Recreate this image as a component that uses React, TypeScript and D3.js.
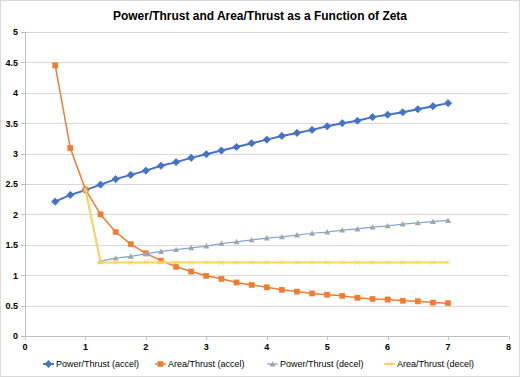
import React from "react";
import * as d3 from "d3";

const xAccel = [0.5, 0.75, 1, 1.25, 1.5, 1.75, 2, 2.25, 2.5, 2.75, 3, 3.25, 3.5, 3.75, 4, 4.25, 4.5, 4.75, 5, 5.25, 5.5, 5.75, 6, 6.25, 6.5, 6.75, 7];
const powerAccel = [2.21, 2.32, 2.40, 2.49, 2.58, 2.65, 2.72, 2.80, 2.86, 2.93, 2.99, 3.05, 3.11, 3.17, 3.23, 3.29, 3.34, 3.39, 3.45, 3.50, 3.54, 3.60, 3.64, 3.68, 3.73, 3.78, 3.83];
const areaAccel = [4.45, 3.09, 2.41, 2.00, 1.71, 1.51, 1.36, 1.24, 1.14, 1.06, 0.99, 0.94, 0.88, 0.84, 0.80, 0.76, 0.73, 0.70, 0.68, 0.66, 0.63, 0.61, 0.60, 0.58, 0.57, 0.55, 0.54];
const xDecel = [1, 1.25, 1.5, 1.75, 2, 2.25, 2.5, 2.75, 3, 3.25, 3.5, 3.75, 4, 4.25, 4.5, 4.75, 5, 5.25, 5.5, 5.75, 6, 6.25, 6.5, 6.75, 7];
const powerDecel = [2.41, 1.23, 1.28, 1.31, 1.35, 1.39, 1.42, 1.45, 1.48, 1.52, 1.55, 1.58, 1.61, 1.63, 1.66, 1.69, 1.71, 1.74, 1.76, 1.79, 1.81, 1.84, 1.86, 1.88, 1.90];
const areaDecel = [2.41, 1.21, 1.21, 1.21, 1.21, 1.21, 1.21, 1.21, 1.21, 1.21, 1.21, 1.21, 1.21, 1.21, 1.21, 1.21, 1.21, 1.21, 1.21, 1.21, 1.21, 1.21, 1.21, 1.21, 1.21];
const xTicks = [0, 1, 2, 3, 4, 5, 6, 7, 8];
const yTicks = [0, 0.5, 1, 1.5, 2, 2.5, 3, 3.5, 4, 4.5, 5];
const seriesNames = ["Power/Thrust (accel)", "Area/Thrust (accel)", "Power/Thrust (decel)", "Area/Thrust (decel)"];
const title = "Power/Thrust and Area/Thrust as a Function of Zeta";

type Marker = "diamond" | "square" | "triangle" | "x";
const styles: { line: string; marker: string; lw: number; m: Marker }[] = [
  { line: "#4472C4", marker: "#4472C4", lw: 2, m: "diamond" },
  { line: "#ED7D31", marker: "#ED7D31", lw: 1.5, m: "square" },
  { line: "#7FA6DA", marker: "#A5A5A5", lw: 1.25, m: "triangle" },
  { line: "#FFD45A", marker: "#FFD45A", lw: 2, m: "x" },
];

function MarkerShape({ x, y, m, color }: { x: number; y: number; m: Marker; color: string }) {
  if (m === "diamond") {
    const s = 3.6;
    return <path d={`M${x},${y - s}L${x + s},${y}L${x},${y + s}L${x - s},${y}Z`} fill={color} stroke={color} strokeWidth={0.8} />;
  }
  if (m === "square") {
    const s = 2.6;
    return <rect x={x - s} y={y - s} width={2 * s} height={2 * s} fill={color} stroke={color} strokeWidth={0.5} />;
  }
  if (m === "triangle") {
    const s = 3;
    return <path d={`M${x},${y - s}L${x + s},${y + s * 0.8}L${x - s},${y + s * 0.8}Z`} fill={color} />;
  }
  const s = 2.3;
  return <path d={`M${x - s},${y - s}L${x + s},${y + s}M${x + s},${y - s}L${x - s},${y + s}`} stroke={color} strokeWidth={1} />;
}

export default function App() {
  const W = 520, H = 377;
  const x = d3.scaleLinear().domain([0, 8]).range([25, 508.5]);
  const y = d3.scaleLinear().domain([0, 5]).range([336, 32]);
  const data = [
    { xs: xAccel, ys: powerAccel },
    { xs: xAccel, ys: areaAccel },
    { xs: xDecel, ys: powerDecel },
    { xs: xDecel, ys: areaDecel },
  ];
  const line = d3.line<[number, number]>().x((d) => x(d[0])).y((d) => y(d[1]));
  const tickFont = "Liberation Sans, Arial, sans-serif";
  const legendX = [43, 155, 267, 384];
  return (
    <svg width={W} height={H} style={{ position: "absolute", left: 0, top: 0 }}>
      <rect x={0.5} y={0.5} width={W - 1} height={H - 1} fill="#fff" stroke="#D9D9D9" />
      <text x={260} y={20} textAnchor="middle" fontFamily={tickFont} fontWeight="bold" fontSize={12.5} fill="#000" textLength={294} lengthAdjust="spacingAndGlyphs">{title}</text>
      {yTicks.map((t) => (
        <g key={"y" + t}>
          {t > 0 && <line x1={25} x2={508.5} y1={Math.round(y(t)) + 0.5} y2={Math.round(y(t)) + 0.5} stroke="#D9D9D9" strokeWidth={1} />}
          <line x1={21} x2={25} y1={Math.round(y(t)) + 0.5} y2={Math.round(y(t)) + 0.5} stroke="#BFBFBF" />
          <text x={18} y={y(t) + 3.3} textAnchor="end" fontFamily={tickFont} fontWeight="bold" fontSize={9} fill="#000">{t}</text>
        </g>
      ))}
      <line x1={25.5} x2={25.5} y1={32} y2={336} stroke="#BFBFBF" />
      <line x1={25} x2={508.5} y1={336.5} y2={336.5} stroke="#BFBFBF" />
      {xTicks.map((t) => (
        <g key={"x" + t}>
          <line x1={Math.round(x(t)) + 0.5} x2={Math.round(x(t)) + 0.5} y1={336} y2={340} stroke="#BFBFBF" />
          <text x={x(t)} y={350} textAnchor="middle" fontFamily={tickFont} fontWeight="bold" fontSize={9} fill="#000">{t}</text>
        </g>
      ))}
      {data.map((s, i) => {
        const pts = s.xs.map((v, j) => [v, s.ys[j]] as [number, number]);
        return (
          <g key={"s" + i}>
            <path d={line(pts) || ""} fill="none" stroke={styles[i].line} strokeWidth={styles[i].lw} strokeLinejoin="round" />
            {pts.map((p, j) => (
              <MarkerShape key={j} x={x(p[0])} y={y(p[1])} m={styles[i].m} color={styles[i].marker} />
            ))}
          </g>
        );
      })}
      {seriesNames.map((n, i) => (
        <g key={"l" + i}>
          <line x1={legendX[i]} x2={legendX[i] + 11} y1={364} y2={364} stroke={styles[i].line} strokeWidth={styles[i].lw} />
          <MarkerShape x={legendX[i] + 5.5} y={364} m={styles[i].m} color={styles[i].marker} />
          <text x={legendX[i] + 13} y={367.3} fontFamily={tickFont} fontSize={9} fill="#000">{n}</text>
        </g>
      ))}
    </svg>
  );
}
